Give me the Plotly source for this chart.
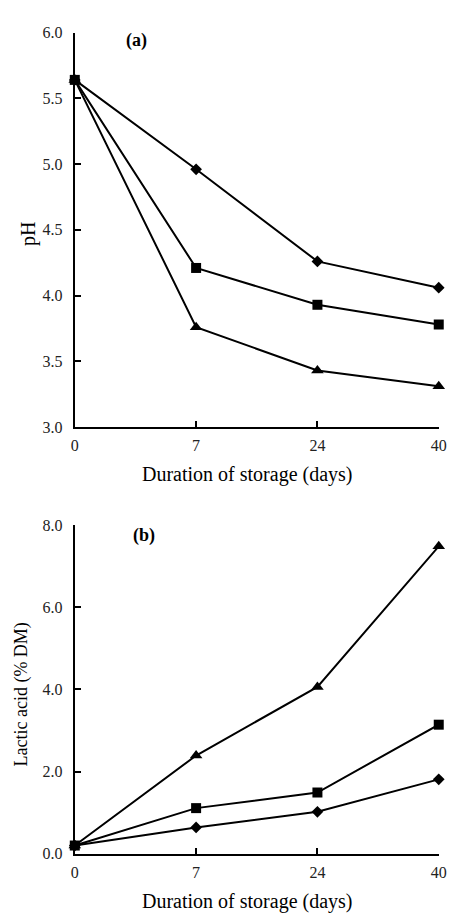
import plotly.graph_objects as go

days = ["0", "7", "24", "40"]

ph_diamond = [5.64, 4.96, 4.26, 4.06]
ph_square = [5.64, 4.21, 3.93, 3.78]
ph_triangle = [5.64, 3.76, 3.43, 3.31]

la_diamond = [0.20, 0.64, 1.02, 1.81]
la_square = [0.20, 1.11, 1.49, 3.14]
la_triangle = [0.20, 2.39, 4.06, 7.48]

ph_ticks = [3.0, 3.5, 4.0, 4.5, 5.0, 5.5, 6.0]
la_ticks = [0.0, 2.0, 4.0, 6.0, 8.0]

W, H = 456, 918
FONT = "Liberation Serif"

fig = go.Figure()

series = [
    (ph_diamond, la_diamond, "diamond", 9),
    (ph_square, la_square, "square", 10),
    (ph_triangle, la_triangle, "triangle-up", 11),
]
for ph, la, sym, size in series:
    fig.add_trace(go.Scatter(x=days, y=ph, mode="lines+markers", xaxis="x", yaxis="y",
                             line=dict(color="black", width=2),
                             marker=dict(symbol=sym, size=size, color="black"),
                             cliponaxis=False, showlegend=False))
    fig.add_trace(go.Scatter(x=days, y=la, mode="lines+markers", xaxis="x2", yaxis="y2",
                             line=dict(color="black", width=2),
                             marker=dict(symbol=sym, size=size, color="black"),
                             cliponaxis=False, showlegend=False))

xdom = [72.7 / W, 446.5 / W]
ax_common = dict(showline=True, linecolor="black", linewidth=2, ticks="inside",
                 ticklen=6, tickwidth=2, tickcolor="black", showgrid=False,
                 zeroline=False, tickfont=dict(family=FONT, size=16, color="#222"))

fig.update_layout(
    width=W, height=H,
    margin=dict(l=0, r=0, t=0, b=0),
    paper_bgcolor="white", plot_bgcolor="white",
    font=dict(family=FONT, color="black"),
    xaxis=dict(domain=xdom, anchor="y", type="category", range=[0, 3],
               ticklabelstandoff=3, **ax_common),
    yaxis=dict(domain=[1 - 427 / H, 1 - 25 / H], anchor="x", range=[3.0, 6.0],
               tickvals=ph_ticks, ticktext=[f"{v:.1f}" for v in ph_ticks],
               ticklabelstandoff=7, **ax_common),
    xaxis2=dict(domain=xdom, anchor="y2", type="category", range=[0, 3],
                ticklabelstandoff=3, **ax_common),
    yaxis2=dict(domain=[1 - 861.7 / H, 1 - 526.7 / H], anchor="x2", range=[0.0, 8.0],
                tickvals=la_ticks, ticktext=[f"{v:.1f}" for v in la_ticks],
                ticklabelstandoff=7, **ax_common),
)

def ann(text, x, y, size=15, angle=0, bold=False):
    fig.add_annotation(text=f"<b>{text}</b>" if bold else text, x=x / W, y=1 - y / H,
                       xref="paper", yref="paper", showarrow=False, textangle=angle,
                       font=dict(family=FONT, size=size, color="black"),
                       xanchor="center", yanchor="middle")

ann("(a)", 136, 33, size=18, bold=True)
ann("(b)", 144, 537, size=18, bold=True)
ann("pH", 25, 230, size=20, angle=-90)
ann("Lactic acid (% DM)", 18, 700, size=18, angle=-90)
ann("Duration of storage (days)", 250, 475, size=20)
ann("Duration of storage (days)", 250, 910, size=20)

fig.write_html("out.html", config={"displayModeBar": False},
               post_script="document.body.style.margin='0';document.body.style.overflow='hidden';")
